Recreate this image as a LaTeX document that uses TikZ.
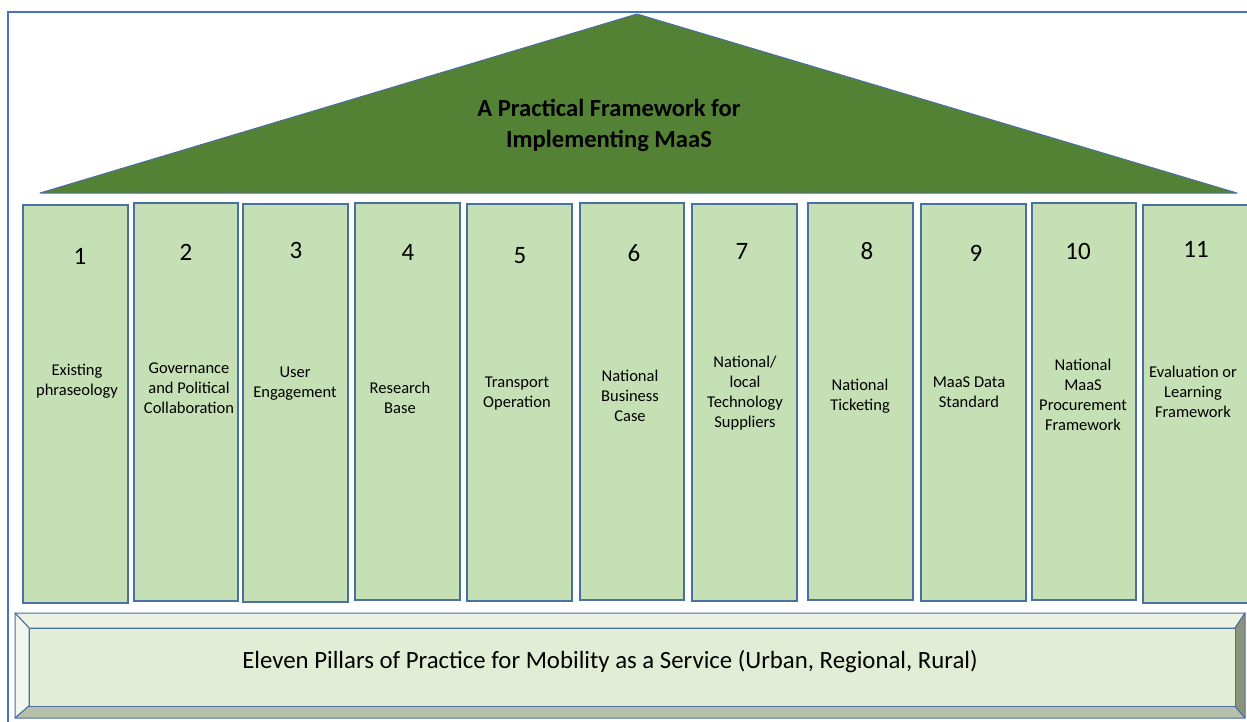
\documentclass[tikz,border=0pt]{standalone}
\usepackage{fontspec}
\setmainfont{Carlito}
\definecolor{frameblue}{HTML}{4472C4}
\definecolor{edgeblue}{HTML}{4A6FA5}
\definecolor{roofgreen}{HTML}{548235}
\definecolor{pillarfill}{HTML}{C5E0B4}
\definecolor{baseface}{HTML}{E2EDD6}
\definecolor{basetop}{HTML}{EBF2E3}
\definecolor{baseleft}{HTML}{F2F7EE}
\definecolor{basebottom}{HTML}{B7BFA9}
\definecolor{baseright}{HTML}{8C927B}
\tikzset{
  pillarbox/.style={draw=edgeblue, line width=1.3pt, fill=pillarfill, inner sep=0pt, outer sep=0pt},
  numtext/.style={font=\fontsize{25}{29}\selectfont, inner sep=0pt},
  labtext/.style={font=\fontsize{16.5}{20}\selectfont, align=center, inner sep=0pt},
  bevel/.style={draw=edgeblue, line width=1pt, line join=round}
}
\begin{document}
\begin{tikzpicture}[x=1pt,y=-1pt]
\useasboundingbox (0,0) rectangle (1247,721);
\fill[white] (0,0) rectangle (1247,721);
% outer frame
\draw[frameblue, line width=2pt] (8,725) -- (8,12) -- (1252,12);
% roof
\coordinate (ra) at (40,193);
\coordinate (rb) at (637,14);
\coordinate (rc) at (1237,193);
\draw[fill=roofgreen, draw=edgeblue, line width=1pt, line join=round] (ra) -- (rb) -- (rc) -- cycle;
\node[font=\bfseries\fontsize{24.6}{31}\selectfont, align=center, inner sep=0pt] (title) at (609,125) {A Practical Framework for\\Implementing MaaS};
% pillars
\foreach \i/\xa/\ya/\xb/\yb/\nx/\ny/\lx/\ly/\lab in {
  1/23/205/128/603/80/256/77/381/{Existing\\phraseology},
  2/134/203/238/601/186/252/189/388/{Governance\\and Political\\Collaboration},
  3/243/204/348/602/296/250/295/384/{User\\Engagement},
  4/355/203/460/600/408/252/400/398/{Research\\Base},
  5/467/204/572/601/520/256/517/394/{Transport\\Operation},
  6/580/203/684/600/634/253/630/396/{National\\Business\\Case},
  7/692/204/797/601/742/251/745/393/{National/\\local\\Technology\\Suppliers},
  8/808/203/913/600/867/251/860/396/{National\\Ticketing},
  9/921/204/1026/601/976/253/969/392/{MaaS Data\\Standard},
  10/1032/203/1136/600/1078/251/1083/395/{National\\MaaS\\Procurement\\Framework},
  11/1143/205/1256/603/1196/249/1193/392/{Evaluation or\\Learning\\Framework}}
{
  \draw[pillarbox] (\xa,\ya) rectangle (\xb,\yb);
  \node[numtext] (n\i) at (\nx,\ny) {\i};
  \node[labtext] (l\i) at (\lx,\ly) {\lab};
}
% base with bevel
\coordinate (o1) at (15,613);
\coordinate (o2) at (1245,613);
\coordinate (o3) at (1245,718);
\coordinate (o4) at (15,718);
\coordinate (i1) at (29,628);
\coordinate (i2) at (1235,628);
\coordinate (i3) at (1235,706);
\coordinate (i4) at (29,706);
\draw[bevel, fill=basetop] (o1) -- (o2) -- (i2) -- (i1) -- cycle;
\draw[bevel, fill=baseleft] (o1) -- (i1) -- (i4) -- (o4) -- cycle;
\draw[bevel, fill=basebottom] (o4) -- (i4) -- (i3) -- (o3) -- cycle;
\draw[bevel, fill=baseright] (o2) -- (o3) -- (i3) -- (i2) -- cycle;
\draw[bevel, fill=baseface] (i1) rectangle (i3);
\node[font=\fontsize{24.8}{28}\selectfont, inner sep=0pt] (basetext) at (610,662) {Eleven Pillars of Practice for Mobility as a Service (Urban, Regional, Rural)};
\end{tikzpicture}
\end{document}
